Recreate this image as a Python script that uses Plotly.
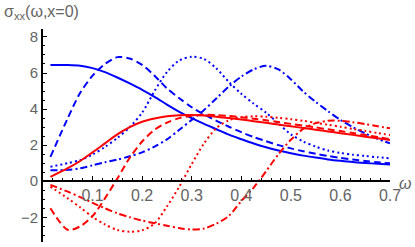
import plotly.graph_objects as go

# frequency grid (omega)
omega = [0.015, 0.05, 0.075, 0.1, 0.125, 0.15, 0.175, 0.2, 0.225, 0.25, 0.275, 0.3,
         0.325, 0.35, 0.375, 0.4, 0.425, 0.45, 0.475, 0.5, 0.525, 0.55, 0.575, 0.6,
         0.625, 0.65, 0.675, 0.7]

# blue curves
blue_solid = [6.45, 6.44, 6.40, 6.27, 6.05, 5.75, 5.42, 5.07, 4.68, 4.25, 3.85, 3.50,
              3.18, 2.88, 2.58, 2.33, 2.09, 1.88, 1.70, 1.55, 1.42, 1.31, 1.21, 1.13,
              1.06, 1.01, 0.97, 0.93]
blue_dashed = [1.35, 3.5, 4.9, 5.85, 6.5, 6.88, 6.8, 6.45, 5.85, 5.15, 4.6, 4.1,
               3.7, 3.35, 3.02, 2.72, 2.45, 2.22, 2.0, 1.82, 1.66, 1.52, 1.40, 1.29,
               1.20, 1.12, 1.05, 0.99]
blue_dotted = [0.80, 1.0, 1.17, 1.48, 1.9, 2.4, 3.0, 3.8, 5.0, 6.05, 6.7, 6.9,
               6.78, 6.25, 5.5, 4.85, 4.3, 3.8, 3.2, 2.6, 2.2, 1.92, 1.7, 1.57,
               1.47, 1.4, 1.33, 1.27]
blue_dotdashed = [0.61, 0.63, 0.72, 0.88, 1.05, 1.2, 1.38, 1.6, 1.92, 2.32, 2.85, 3.4,
                  3.95, 4.6, 5.25, 5.8, 6.2, 6.4, 6.2, 5.65, 4.97, 4.4, 3.88, 3.4,
                  3.0, 2.65, 2.35, 2.1]

# red curves
red_solid = [0.24, 0.72, 1.12, 1.6, 2.1, 2.6, 3.0, 3.3, 3.48, 3.6, 3.66, 3.67,
             3.64, 3.58, 3.5, 3.42, 3.33, 3.24, 3.14, 3.05, 2.95, 2.86, 2.76, 2.66,
             2.57, 2.47, 2.38, 2.28]
red_dashed = [-1.5, -2.7, -2.5, -1.93, -0.95, 0.15, 1.3, 2.2, 2.85, 3.25, 3.5, 3.63,
              3.68, 3.67, 3.62, 3.55, 3.47, 3.38, 3.28, 3.18, 3.08, 2.98, 2.88, 2.78,
              2.67, 2.56, 2.45, 2.33]
red_dotted = [-0.3, -0.95, -1.45, -1.98, -2.4, -2.7, -2.8, -2.72, -2.35, -1.4, -0.3, 0.95,
              2.1, 2.95, 3.38, 3.55, 3.6, 3.58, 3.52, 3.44, 3.35, 3.24, 3.13, 3.02,
              2.9, 2.79, 2.67, 2.56]
red_dotdashed = [-0.2, -0.58, -0.88, -1.2, -1.5, -1.78, -2.0, -2.18, -2.33, -2.47, -2.6, -2.68,
                 -2.62, -2.35, -1.92, -1.1, -0.35, 0.55, 1.5, 2.3, 2.9, 3.22, 3.35, 3.35,
                 3.27, 3.17, 3.05, 2.93]

x_ticks = [0.1, 0.2, 0.3, 0.4, 0.5, 0.6, 0.7]
x_tick_labels = ["0.1", "0.2", "0.3", "0.4", "0.5", "0.6", "0.7"]
y_ticks = [-2, 0, 2, 4, 6, 8]
y_tick_labels = ["−2", "0", "2", "4", "6", "8"]

x_range = [0.0, 0.7]
y_range = [-3.37, 8.44]

BLUE = "rgb(0,0,255)"
RED = "rgb(255,0,0)"
DASHED = "7px,4px"
DOTTED = "2px,3px"
DOTDASHED = "7px,3px,2px,3px"

series = [
    (blue_solid, BLUE, "solid"),
    (blue_dashed, BLUE, DASHED),
    (blue_dotted, BLUE, DOTTED),
    (blue_dotdashed, BLUE, DOTDASHED),
    (red_solid, RED, "solid"),
    (red_dashed, RED, DASHED),
    (red_dotted, RED, DOTTED),
    (red_dotdashed, RED, DOTDASHED),
]

fig = go.Figure()
for ys, col, dash in series:
    fig.add_trace(go.Scatter(x=omega, y=ys, mode="lines",
                             line=dict(color=col, width=2, dash=dash, shape="spline",
                                       smoothing=0.8),
                             showlegend=False, hoverinfo="skip"))

GRAY = "rgb(100,100,100)"
FONT = "Liberation Sans, Arial, sans-serif"
zero_pos = (0 - y_range[0]) / (y_range[1] - y_range[0])

fig.update_layout(
    template="none",
    width=415, height=247,
    margin=dict(l=43, r=25, t=29, b=5, autoexpand=False),
    paper_bgcolor="white", plot_bgcolor="white",
    font=dict(family=FONT, color=GRAY, size=15),
    xaxis=dict(range=x_range, showgrid=False, zeroline=False, automargin=False,
               showline=True, linecolor="black", linewidth=2,
               anchor="free", position=zero_pos,
               tickmode="array", tickvals=x_ticks, ticktext=x_tick_labels,
               ticks="inside", ticklen=4, tickwidth=1, tickcolor="black",
               tickfont=dict(family=FONT, size=16, color=GRAY),
               minor=dict(ticks="inside", ticklen=2, tickwidth=1, tickcolor="black",
                          tickmode="linear", tick0=0, dtick=0.02)),
    yaxis=dict(range=y_range, showgrid=False, zeroline=False, automargin=False,
               showline=True, linecolor="black", linewidth=2,
               tickmode="array", tickvals=y_ticks, ticktext=y_tick_labels,
               ticks="inside", ticklen=4, tickwidth=1, tickcolor="black",
               tickfont=dict(family=FONT, size=15, color=GRAY),
               minor=dict(ticks="inside", ticklen=2, tickwidth=1, tickcolor="black",
                          tickmode="linear", tick0=0, dtick=0.5)),
)

fig.add_annotation(text="σ<sub>xx</sub>(ω,x=0)", xref="paper", yref="paper",
                   x=-0.118, y=1.13, xanchor="left", yanchor="top", showarrow=False,
                   font=dict(family=FONT, size=16, color=GRAY))
fig.add_annotation(text="<i>ω</i>", xref="paper", yref="y",
                   x=1.02, y=0, xanchor="left", yanchor="middle", yshift=-2,
                   showarrow=False, font=dict(family=FONT, size=16, color=GRAY))

fig.write_html("out.html",
               config={"displayModeBar": False},
               post_script="document.body.style.margin='0px';"
                           "document.body.style.overflow='hidden';")
